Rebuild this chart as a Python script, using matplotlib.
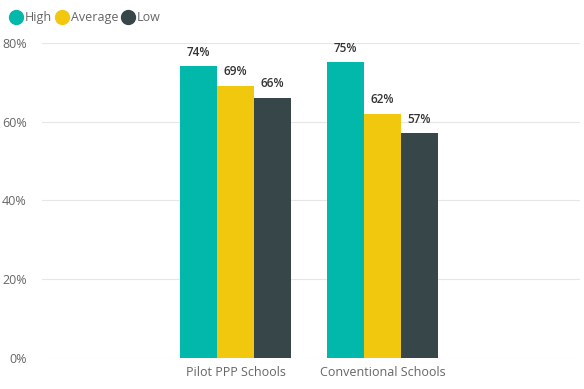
import numpy as np
import matplotlib.pyplot as plt
from matplotlib.lines import Line2D

categories = ["Pilot PPP Schools", "Conventional Schools"]
series_names = ["High", "Average", "Low"]
high = [0.74, 0.75]
average = [0.69, 0.62]
low = [0.66, 0.57]
y_ticks = [0, 0.2, 0.4, 0.6, 0.8]
y_tick_labels = ["0%", "20%", "40%", "60%", "80%"]

colors = ["#01B8AA", "#F2C80F", "#374649"]

plt.rcParams['font.family'] = ['Open Sans', 'DejaVu Sans']

fig = plt.figure(figsize=(5.84, 3.89), dpi=100)
ax = fig.add_axes([0.072, 0.08, 0.921, 0.81])

x = np.arange(len(categories))
w = 0.252
for i, (name, vals) in enumerate(zip(series_names, [high, average, low])):
    bars = ax.bar(x + (i - 1) * w, vals, width=w, color=colors[i], label=name, zorder=2)
    for b, v in zip(bars, vals):
        ax.text(b.get_x() + b.get_width() / 2, v + 0.02, f"{v * 100:.0f}%",
                ha='center', va='bottom', fontsize=8.5, color='#333333', fontweight='semibold')

ax.set_xlim(-1.316, 2.343)
ax.set_ylim(0, 0.8)
ax.set_yticks(y_ticks)
ax.set_yticklabels(y_tick_labels)
ax.set_xticks(x)
ax.set_xticklabels(categories)
ax.tick_params(axis='both', length=0, labelsize=9, colors='#666666')
ax.tick_params(axis='y', pad=11)
ax.tick_params(axis='x', pad=6)
ax.grid(axis='y', color='#e6e6e6', linewidth=0.8, zorder=0)
for s in ax.spines.values():
    s.set_visible(False)

# round legend markers
handles = [Line2D([], [], marker='o', linestyle='', markersize=10, color=c) for c in colors]
fig.legend(handles, series_names, loc='upper left', bbox_to_anchor=(0.0, 1.0), ncol=3,
           frameon=False, handlelength=0.8, handletextpad=0.3, columnspacing=0.4,
           fontsize=9, labelcolor='#666666')

fig.savefig("out.png", dpi=100)
